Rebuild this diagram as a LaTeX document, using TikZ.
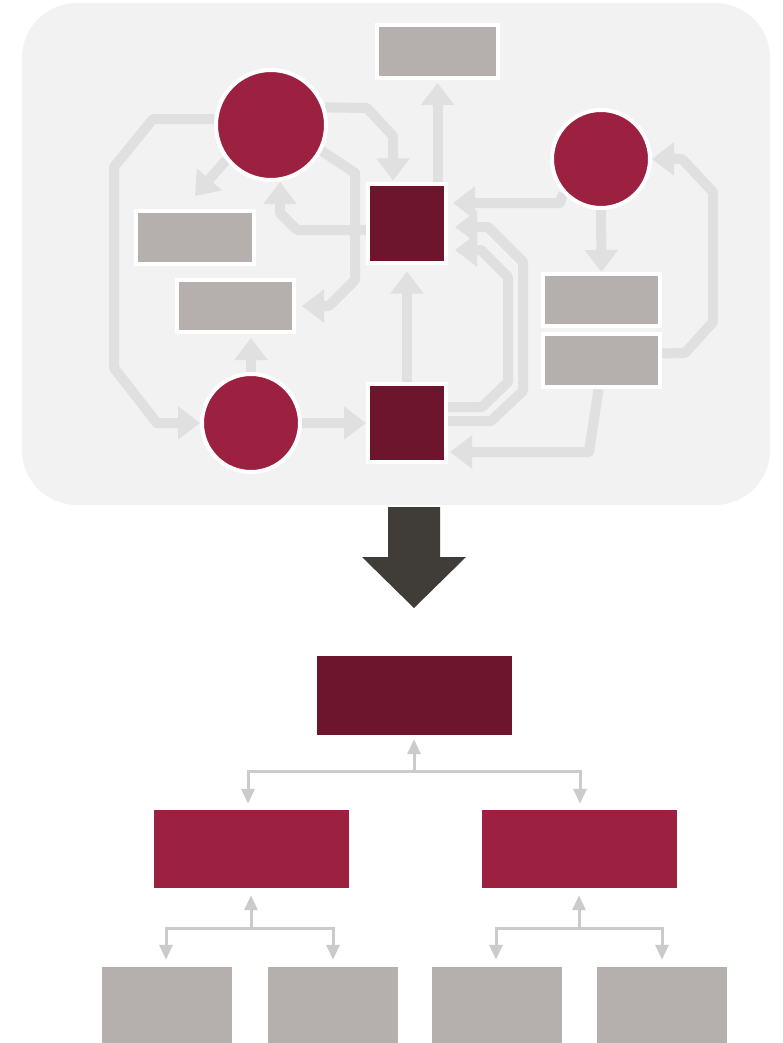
\documentclass[tikz,border=0pt]{standalone}
\usetikzlibrary{arrows.meta,calc}
\definecolor{panelgray}{HTML}{F2F2F2}
\definecolor{linkgray}{HTML}{E0E0E0}
\definecolor{treegray}{HTML}{CBCBCB}
\definecolor{crimson}{HTML}{9C2141}
\definecolor{maroon}{HTML}{6E152E}
\definecolor{stone}{HTML}{B5B0AD}
\definecolor{slate}{HTML}{403C38}
\pgfdeclarelayer{panel}
\pgfdeclarelayer{links}
\pgfsetlayers{panel,links,main}
\tikzset{
  roundnode/.style={circle,fill=crimson,draw=white,line width=4pt,inner sep=0pt},
  squarenode/.style={rectangle,fill=maroon,draw=white,line width=4pt,inner sep=0pt,minimum width=78pt,minimum height=78pt},
  graybox/.style={rectangle,fill=stone,draw=white,line width=4pt,inner sep=0pt,minimum width=117pt,minimum height=53pt},
  link/.style={draw=linkgray,line width=10pt,line join=round,-{Triangle[width=32pt,length=22pt]}},
  flatbox/.style={rectangle,inner sep=0pt,minimum width=195pt,minimum height=79pt},
  leafbox/.style={rectangle,fill=stone,inner sep=0pt,minimum width=130pt,minimum height=80pt},
  tline/.style={draw=treegray,line width=3pt,-{Triangle[width=13pt,length=15pt]}},
}
\begin{document}
\begin{tikzpicture}[x=1pt,y=-1pt]
\useasboundingbox (0,0) rectangle (782,1043);

% ---- network panel ----
\begin{pgfonlayer}{panel}
  \fill[white] (0,0) rectangle (782,1043);
  \fill[panelgray,rounded corners=55pt] (22,3) rectangle (770,505);
\end{pgfonlayer}

\node[roundnode,minimum size=110pt] (A) at (271,125) {};
\node[roundnode,minimum size=98pt] (B) at (251,423) {};
\node[roundnode,minimum size=98pt] (C) at (601,159) {};
\node[squarenode] (sq1) at (407,223.5) {};
\node[squarenode] (sq2) at (407,423) {};
\node[graybox,minimum width=121pt] (gT) at (437.5,51.5) {};
\node[graybox,minimum width=118pt] (gL1) at (195,237.5) {};
\node[graybox,minimum height=52pt] (gL2) at (235.5,306) {};
\node[graybox,minimum height=52pt] (gR1) at (601.5,300) {};
\node[graybox] (gR2) at (601.5,360.5) {};

\begin{pgfonlayer}{links}
  % circle A outputs
  \draw[link,shorten >=2pt] (A.18) -- (367,108) -- (393,136) -- ([xshift=-14pt]sq1.north);
  \draw[link] (A.218) -- ([yshift=13pt]gL1.north);
  \draw[link] (A.-27) -- (355,173) -- (355,280) -- (329,306) -- ([xshift=6pt]gL2.east);
  \draw[link] (A.174) -- (153,119) -- (114,167) -- (114,368) -- (157,423) -- (B.west);
  % square 1 outputs
  \draw[link,shorten >=3pt] (gT.south |- sq1.north) -- (gT.south);
  \draw[link] ([yshift=-6.5pt]sq1.west) -- (297,230) -- (280,213) -- ([xshift=9pt]A.south);
  % circle B outputs
  \draw[link,shorten >=4pt] (B.north) -- (B.north |- gL2.south);
  \draw[link] (B.east) -- (sq2.west);
  % square 2 outputs
  \draw[link,shorten >=7pt] (sq2.north) -- (sq1.south);
  \draw[link] ([yshift=16pt]sq2.east) -- (482,407) -- (508,382) -- (508,277) -- (481,250) -- ([xshift=7pt,yshift=-26.5pt]sq1.east);
  \draw[link] ([yshift=2pt]sq2.east) -- (491,421) -- (523,391) -- (523,262) -- (488,227) -- ([xshift=7pt,yshift=-3.5pt]sq1.east);
  % circle C and right-hand boxes
  \draw[link] (C.222) -- (560,203) -- ([xshift=5pt,yshift=20.5pt]sq1.east);
  \draw[link] (C.south) -- (gR1.north);
  \draw[link] ([yshift=7pt]gR2.east) -- (685,353) -- (713,322) -- (713,192) -- (682,159) -- (C.east);
  \draw[link] ([xshift=-3pt]gR2.south) -- (589,452) -- ([xshift=2pt,yshift=-29pt]sq2.east);
\end{pgfonlayer}

% ---- transition arrow ----
\fill[slate] (388,507) -- (440,507) -- (440,557) -- (466,557) -- (414,608) -- (362,557) -- (388,557) -- cycle;

% ---- hierarchy ----
\node[flatbox,fill=maroon] (top) at (414.5,695.5) {};
\node[flatbox,fill=crimson,minimum height=78pt] (mL) at (251.5,849) {};
\node[flatbox,fill=crimson,minimum height=78pt] (mR) at (579.5,849) {};
\node[leafbox] (b1) at (167,1007) {};
\node[leafbox] (b2) at (333,1007) {};
\node[leafbox] (b3) at (497,1007) {};
\node[leafbox] (b4) at (662,1007) {};

\coordinate (j1) at (414,771);
\coordinate (j2) at (251,928);
\coordinate (j3) at (579,928);

\draw[tline,shorten >=4pt] (j1) -- (j1 |- top.south);
\draw[tline,shorten >=6pt] (j1) -| ([xshift=-3.5pt]mL.north);
\draw[tline,shorten >=6pt] (j1) -| ([xshift=0.5pt]mR.north);

\draw[tline,shorten >=7pt] (j2) -- (j2 |- mL.south);
\draw[tline,shorten >=7pt] (j2) -| ([xshift=-1pt]b1.north);
\draw[tline,shorten >=7pt] (j2) -| (b2.north);

\draw[tline,shorten >=7pt] (j3) -- (j3 |- mR.south);
\draw[tline,shorten >=7pt] (j3) -| ([xshift=-1pt]b3.north);
\draw[tline,shorten >=7pt] (j3) -| (b4.north);
\end{tikzpicture}
\end{document}
